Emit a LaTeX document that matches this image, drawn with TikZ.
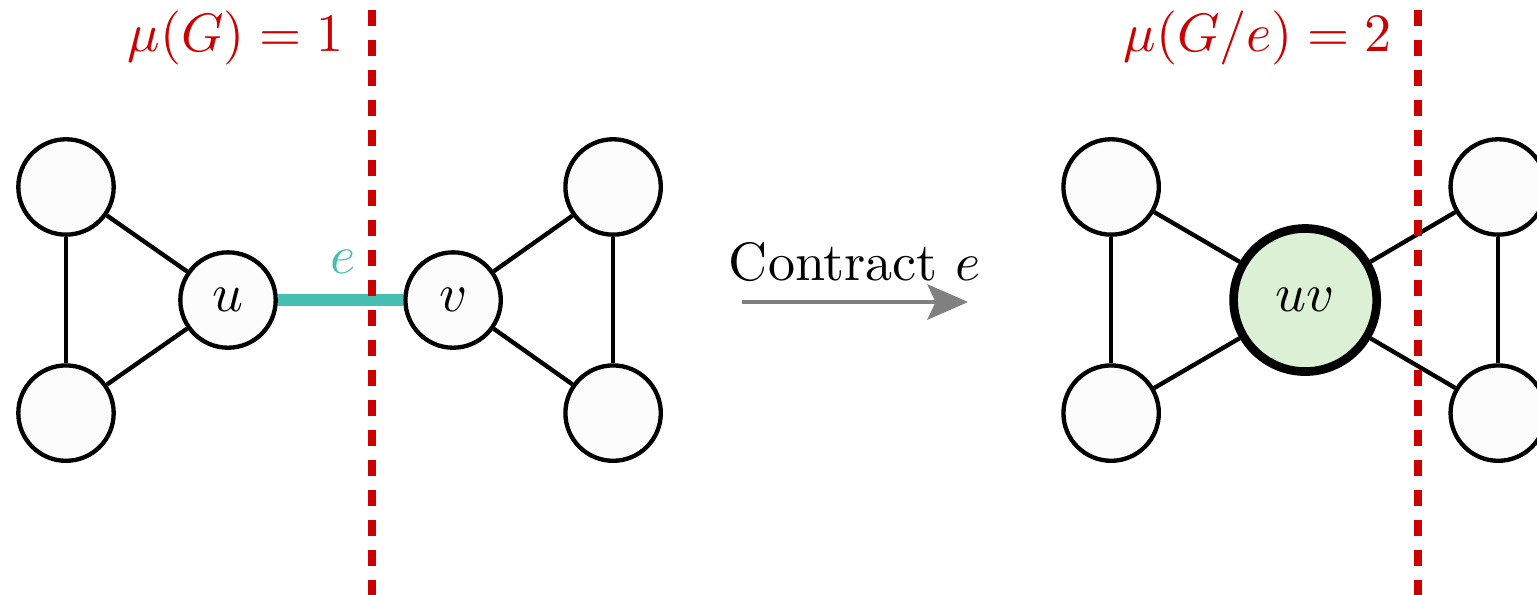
\documentclass[tikz,border=0pt]{standalone}
\usepackage{amsmath,amssymb}
\usepackage{xcolor}
\usepackage{tikz}
\usetikzlibrary{positioning,arrows.meta}

\definecolor{cutred}{RGB}{204,0,0}
\definecolor{edgeteal}{RGB}{70,190,178}
\definecolor{mergegreen}{RGB}{220,240,213}
\definecolor{vtxfill}{RGB}{252,252,252}

\begin{document}
\begin{tikzpicture}[
  on grid,
  vtx/.style={circle, draw, thick, fill=vtxfill, minimum size=0.62cm, inner sep=0pt},
  merged/.style={circle, draw, line width=1.6pt, fill=mergegreen, minimum size=0.93cm, inner sep=0pt},
  link/.style={thick},
  cut/.style={draw=cutred, line width=1.45pt, dash pattern=on 3pt off 2.55pt},
  cutlabel/.style={text=cutred, anchor=east}
]
\useasboundingbox (0,0) rectangle (9.99,3.861);

% before contraction
\node[vtx] (u) at (1.482,1.911) {$u$};
\node[vtx] (v) at (2.945,1.911) {$v$};
\node[vtx, above left=0.735cm and 1.053cm of u] (ua) {};
\node[vtx, below left=0.735cm and 1.053cm of u] (ub) {};
\node[vtx, above right=0.735cm and 1.040cm of v] (va) {};
\node[vtx, below right=0.735cm and 1.040cm of v] (vb) {};

\draw[link] (ua) -- (ub);
\draw[link] (ua) -- (u);
\draw[link] (ub) -- (u);
\draw[link] (va) -- (vb);
\draw[link] (va) -- (v);
\draw[link] (vb) -- (v);
\draw[edgeteal, line width=2.1pt] (u) -- (v);
\node[text=edgeteal] (elabel) at (2.23,2.158) {$e$};

\coordinate (cuta) at (2.418,3.796);
\coordinate (cutb) at (2.418,-0.1);
\draw[cut] (cuta) -- (cutb);
\node[cutlabel] (mu) at (2.36,3.614) {$\mu(G) = 1$};

% contraction arrow
\coordinate (arrs) at (4.823,1.898);
\coordinate (arre) at (6.292,1.898);
\draw[-{Stealth[length=7.5pt, width=6.5pt, inset=1.5pt]}, gray, line width=0.9pt] (arrs) -- (arre)
  node[midway, above, text=black] {Contract $e$};

% after contraction
\node[merged] (uv) at (8.483,1.911) {$uv$};
\node[vtx, above left=0.735cm and 1.261cm of uv] (ca) {};
\node[vtx, below left=0.735cm and 1.261cm of uv] (cb) {};
\node[vtx, above right=0.735cm and 1.255cm of uv] (da) {};
\node[vtx, below right=0.735cm and 1.255cm of uv] (db) {};

\draw[link] (ca) -- (cb);
\draw[link] (ca) -- (uv);
\draw[link] (cb) -- (uv);
\draw[link] (da) -- (db);
\draw[link] (da) -- (uv);
\draw[link] (db) -- (uv);

\coordinate (cutc) at (9.217,3.796);
\coordinate (cutd) at (9.217,-0.1);
\draw[cut] (cutc) -- (cutd);
\node[cutlabel] (mue) at (9.172,3.614) {$\mu(G/e) = 2$};
\end{tikzpicture}
\end{document}
